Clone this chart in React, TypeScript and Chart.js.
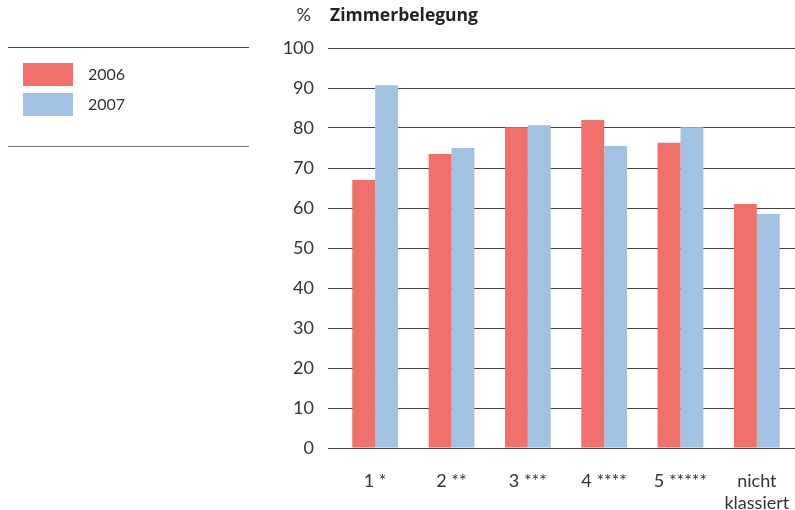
import React, { useEffect, useRef } from "react";
import { Chart, registerables } from "chart.js";

Chart.register(...registerables);

const categories: (string | string[])[] = ["1 *", "2 **", "3 ***", "4 ****", "5 *****", ["nicht", "klassiert"]];
const values2006 = [67.0, 73.5, 80.2, 82.0, 76.3, 61.0];
const values2007 = [90.7, 75.0, 80.7, 75.5, 80.2, 58.5];
const seriesLabels = ["2006", "2007"];
const yTicks = [0, 10, 20, 30, 40, 50, 60, 70, 80, 90, 100];
const titleUnit = "%";
const titleText = "Zimmerbelegung";

const RED = "#F0716B";
const BLUE = "#A2C2E4";
const FONT = "Lato, 'Open Sans', sans-serif";
const TITLE_FONT = "'Open Sans', Lato, sans-serif";
const TEXT = "#333333";

const overlayPlugin = {
  id: "overlay",
  afterDraw(chart: any) {
    const ctx = chart.ctx;
    const area = chart.chartArea;
    ctx.save();
    // title
    ctx.fillStyle = TEXT;
    ctx.textBaseline = "alphabetic";
    ctx.font = `18px ${FONT}`;
    ctx.textAlign = "right";
    ctx.fillText(titleUnit, area.left - 26, 21);
    ctx.fillStyle = "#222222";
    ctx.font = `bold 17.5px ${TITLE_FONT}`;
    ctx.textAlign = "left";
    ctx.fillText(titleText, area.left - 7, 21);

    // legend block
    ctx.strokeStyle = "#444444";
    ctx.lineWidth = 1;
    ctx.beginPath();
    ctx.moveTo(8, 47.5);
    ctx.lineTo(249, 47.5);
    ctx.stroke();
    ctx.strokeStyle = "#777777";
    ctx.beginPath();
    ctx.moveTo(8, 146.5);
    ctx.lineTo(249, 146.5);
    ctx.stroke();

    chart.data.datasets.forEach((ds: any, i: number) => {
      const y = 63 + i * 30;
      ctx.fillStyle = ds.backgroundColor;
      ctx.fillRect(23, y, 50, 23);
      ctx.fillStyle = TEXT;
      ctx.font = `16px ${FONT}`;
      ctx.textAlign = "left";
      ctx.textBaseline = "middle";
      ctx.fillText(ds.label, 88, y + 12);
    });
    ctx.restore();
  },
};

export default function App() {
  const ref = useRef<HTMLCanvasElement>(null);

  useEffect(() => {
    if (!ref.current) return;
    const chart = new Chart(ref.current, {
      type: "bar",
      data: {
        labels: categories,
        datasets: [
          { label: seriesLabels[0], data: values2006, backgroundColor: RED },
          { label: seriesLabels[1], data: values2007, backgroundColor: BLUE },
        ],
      },
      options: {
        animation: false,
        responsive: false,
        devicePixelRatio: 1,
        layout: { padding: { left: 270, top: 48, right: 0, bottom: 0 } },
        plugins: {
          legend: { display: false },
          tooltip: { enabled: false },
          title: { display: false },
        },
        datasets: {
          bar: { categoryPercentage: 0.6, barPercentage: 1.0 },
        },
        scales: {
          x: {
            grid: { display: false },
            border: { display: false },
            ticks: {
              color: TEXT,
              font: { family: FONT, size: 18, lineHeight: 1.22 },
              padding: 14,
              maxRotation: 0,
              autoSkip: false,
            },
            afterFit(scale: any) {
              scale.height = 62;
              scale.paddingLeft = 0;
              scale.paddingRight = 0;
            },
          },
          y: {
            min: 0,
            max: 100,
            afterBuildTicks(scale: any) {
              scale.ticks = yTicks.map((v) => ({ value: v }));
            },
            grid: {
              color: "#444444",
              lineWidth: 1,
              drawTicks: true,
              tickLength: 9,
            },
            border: { display: false },
            ticks: {
              color: TEXT,
              font: { family: FONT, size: 18 },
              padding: 14,
            },
            afterFit(scale: any) {
              scale.width = 67;
              scale.paddingTop = 0;
              scale.paddingBottom = 0;
            },
          },
        },
      },
      plugins: [overlayPlugin],
    });
    return () => chart.destroy();
  }, []);

  return (
    <div style={{ position: "fixed", left: 0, top: 0, width: 795, height: 510, background: "#fff" }}>
      <canvas ref={ref} width={795} height={510} style={{ width: 795, height: 510 }} />
    </div>
  );
}
